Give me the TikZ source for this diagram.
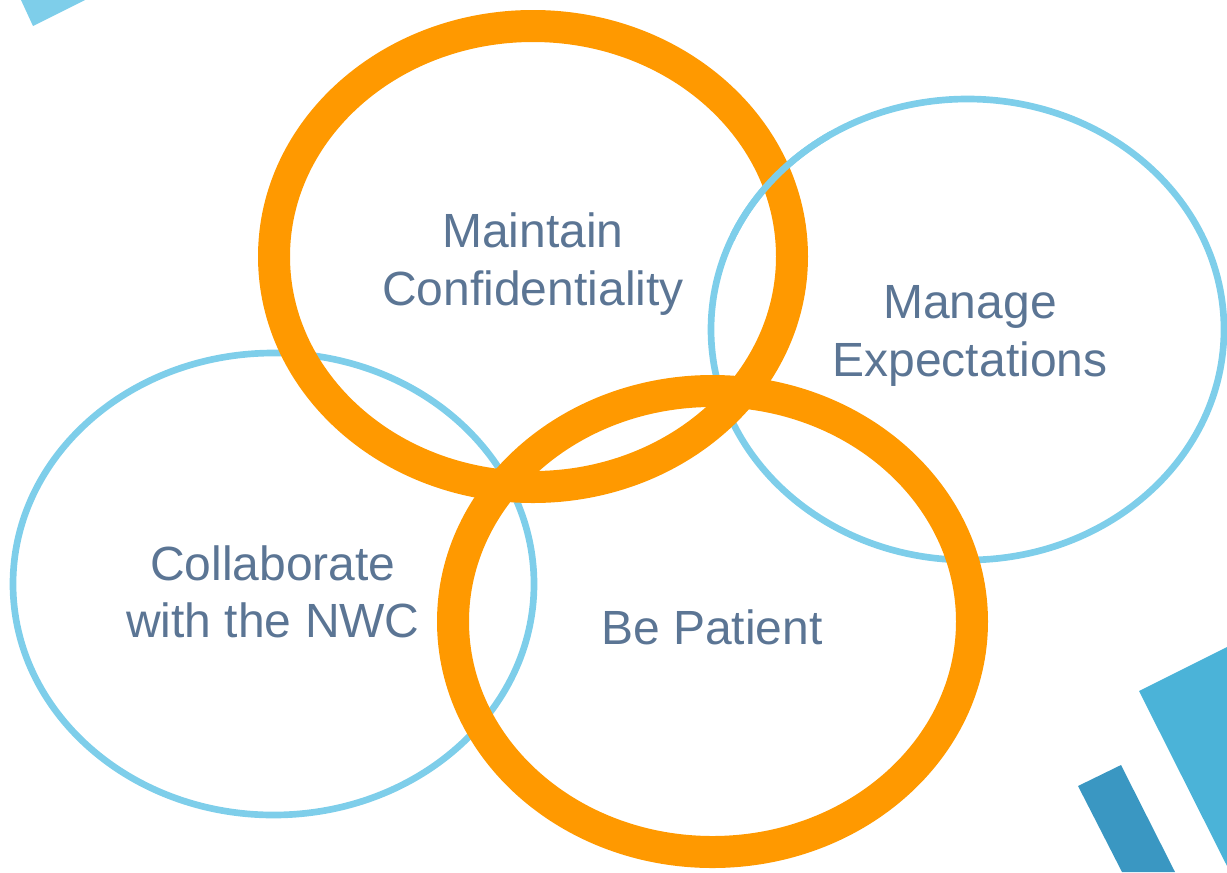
\documentclass[tikz,border=0pt]{standalone}
\usepackage{fontspec}
\setmainfont{Liberation Sans}
\definecolor{ringorange}{RGB}{255,153,0}
\definecolor{ringblue}{RGB}{126,206,234}
\definecolor{labelblue}{RGB}{91,117,148}
\definecolor{stripelight}{RGB}{75,179,216}
\definecolor{stripedark}{RGB}{58,151,194}
\tikzset{
  orangering/.style={draw=ringorange, line width=24pt},
  bluering/.style={draw=ringblue, line width=5pt},
  ringlabel/.style={align=center, text=labelblue, font=\fontsize{36}{43}\selectfont}
}
\begin{document}
\begin{tikzpicture}[x=0.75pt,y=0.75pt,yscale=-1]
			\useasboundingbox (0,0) rectangle (1227,872);
			%Shape: Triangle top left
			\fill [ringblue] (21,0) -- (33,26) -- (85,0) -- cycle ;
			%Shape: Stripes bottom right
			\fill [stripelight] (1139,691) -- (1227,647) -- (1227,866) -- cycle ;
			\fill [stripedark] (1078,786) -- (1121,765) -- (1175,872) -- (1122,872) -- cycle ;
			
			%Shape: Ellipse (blue)
			\draw [bluering] (273.5,584) ellipse [x radius=260.5, y radius=231];
			\draw [bluering] (967.5,329.5) ellipse [x radius=256.5, y radius=230.5];
			%Shape: Ellipse (orange)
			\draw [orangering] (533,256.5) ellipse [x radius=259, y radius=230.5];
			\draw [orangering] (712.5,621.5) ellipse [x radius=259.5, y radius=230.5];
			%blue over orange at the top right crossing
			\begin{scope}
				\clip (730,120) rectangle (830,240);
				\draw [bluering] (967.5,329.5) ellipse [x radius=256.5, y radius=230.5];
			\end{scope}
			
			% Text Node
			\node [ringlabel] (confid) at (533,264) {Maintain\\Confidentiality};
			\node [ringlabel] (expect) at (970,336) {Manage\\Expectations};
			\node [ringlabel] (collab) at (273,592) {Collaborate\\with the NWC};
			\node [ringlabel] (patient) at (712,627) {Be Patient};
		\end{tikzpicture}
\end{document}
